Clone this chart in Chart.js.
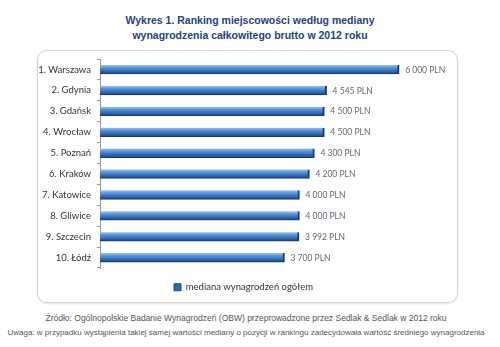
<!DOCTYPE html>
<html>
<head>
<meta charset="utf-8">
<script src="https://cdn.jsdelivr.net/npm/chart.js@4/dist/chart.umd.min.js"></script>
<style>
  body { margin: 0; background: #fff; width: 500px; height: 347px; position: relative; overflow: hidden; }
  .title { position: absolute; left: 0; top: 13px; width: 500px; text-align: center;
    font: bold 10.5px "Liberation Sans", Arial, sans-serif; color: #23427f; line-height: 14.5px; }
  .box { position: absolute; left: 37px; top: 50px; width: 421px; height: 253px; box-sizing: border-box;
    border: 1px solid #d4d4d4; border-radius: 10px; box-shadow: 0 1px 2px rgba(0,0,0,0.12); }
  .note { position: absolute; left: -4px; width: 500px; text-align: center;
    font: 8px "Liberation Sans", Arial, sans-serif; color: #555; white-space: nowrap; }
</style>
</head>
<body>
<div class="title">Wykres 1. Ranking miejscowości według mediany<br>wynagrodzenia całkowitego brutto w 2012 roku</div>
<div class="box"><canvas id="chart"></canvas></div>
<div class="note" style="top:313px; font-size:8.5px">Źródło: Ogólnopolskie Badanie Wynagrodzeń (OBW) przeprowadzone przez Sedlak &amp; Sedlak w 2012 roku</div>
<div class="note" style="top:328px">Uwaga: w przypadku wystąpienia takiej samej wartości mediany o pozycji w rankingu zadecydowała wartość średniego wynagrodzenia</div>
<script>
// ---------- Data ----------
const cities = ["1. Warszawa", "2. Gdynia", "3. Gdańsk", "4. Wrocław", "5. Poznań",
  "6. Kraków", "7. Katowice", "8. Gliwice", "9. Szczecin", "10. Łódź"];
const medianPay = [6000, 4545, 4500, 4500, 4300, 4200, 4000, 4000, 3992, 3700];
const seriesLabel = "mediana wynagrodzeń ogółem";

function formatPln(v) {
  return String(v).replace(/\B(?=(\d{3})+(?!\d))/g, " ") + " PLN";
}

// bar fill: light top edge, darker bottom, like the 3D look in the source
function barGradient(ctx) {
  const chart = ctx.chart;
  const yScale = chart.scales.y;
  if (!yScale || ctx.dataIndex === undefined) return "#3a78c8";
  const y = yScale.getPixelForValue(ctx.dataIndex);
  if (!Number.isFinite(y)) return "#3a78c8";
  const g = chart.ctx.createLinearGradient(0, y - 4.5, 0, y + 4.5);
  g.addColorStop(0, "#9cc6ee");
  g.addColorStop(0.3, "#5a95d8");
  g.addColorStop(0.7, "#2f67b5");
  g.addColorStop(1, "#1c4482");
  return g;
}

const valueLabels = {
  id: "valueLabels",
  afterDatasetsDraw(chart) {
    const { ctx } = chart;
    const meta = chart.getDatasetMeta(0);
    ctx.save();
    ctx.font = "8.5px Lato, sans-serif";
    ctx.fillStyle = "#667";
    ctx.textBaseline = "middle";
    meta.data.forEach((bar, i) => {
      ctx.fillText(formatPln(medianPay[i]), bar.x + 6, bar.y + 0.5);
    });
    ctx.restore();
  }
};

new Chart(document.getElementById("chart"), {
  type: "bar",
  data: {
    labels: cities,
    datasets: [{
      label: seriesLabel,
      data: medianPay,
      backgroundColor: barGradient,
      borderColor: "#173a70",
      borderWidth: { right: 2, bottom: 1, top: 0, left: 0 },
      borderSkipped: false,
      barThickness: 9
    }]
  },
  options: {
    indexAxis: "y",
    responsive: true,
    maintainAspectRatio: false,
    animation: false,
    layout: { padding: { top: 8, right: 8, bottom: 0, left: 0 } },
    scales: {
      x: { display: false, min: 0, max: 7000 },
      y: {
        afterFit(scale) {
          scale.width = 62;
          scale.paddingTop = 0;
          scale.paddingBottom = 0;
        },
        ticks: { color: "#333", font: { family: "Lato", size: 9.5 }, padding: 6 },
        grid: { drawOnChartArea: false, tickLength: 3, color: "#999" },
        border: { color: "#999" }
      }
    },
    plugins: {
      legend: {
        position: "bottom",
        title: { display: true, text: " ", font: { size: 5 }, padding: { top: 2, bottom: 2 } },
        labels: {
          boxWidth: 7, boxHeight: 7, padding: 4.5,
          color: "#333", font: { family: "Lato", size: 9.5 },
          generateLabels(chart) {
            return [{ text: seriesLabel, fillStyle: "#2f67b5", strokeStyle: "#1c4482",
              lineWidth: 1, fontColor: "#333", datasetIndex: 0 }];
          }
        }
      },
      tooltip: { enabled: false }
    }
  },
  plugins: [valueLabels]
});
</script>
</body>
</html>
